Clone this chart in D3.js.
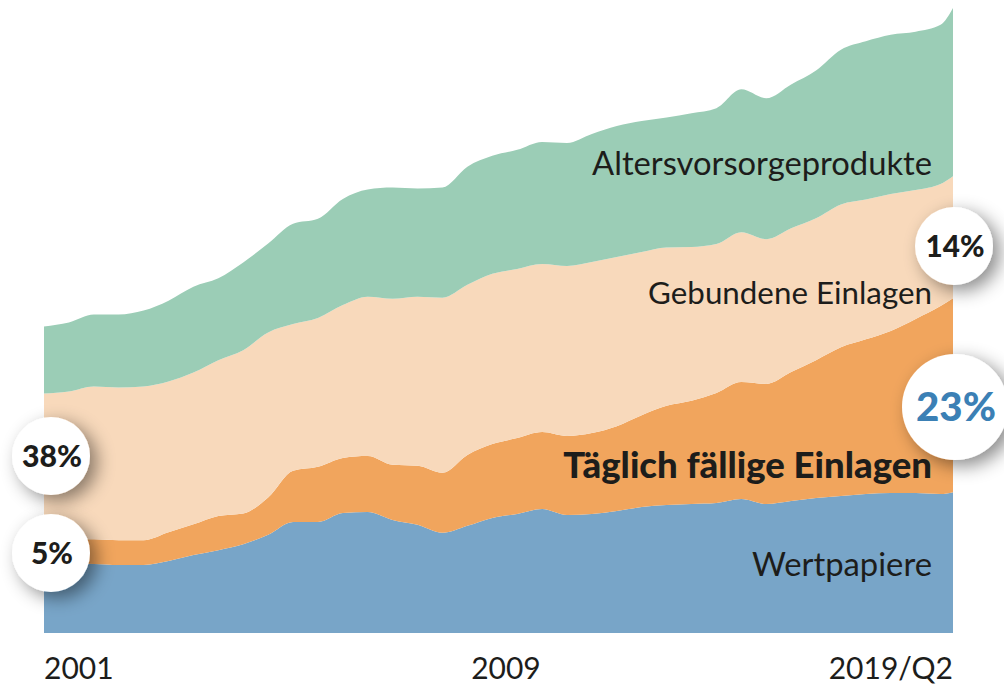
<!DOCTYPE html>
<html>
<head>
<meta charset="utf-8">
<script src="https://cdn.jsdelivr.net/npm/d3@7"></script>
<style>
  body { margin: 0; background: #fff; }
  text { font-family: Lato, "Open Sans", sans-serif; }
</style>
</head>
<body>
<div id="chart-area"></div>
<script>
// Halbjahreswerte, Mrd Euro
var periods = ["2001Q1","2001Q3","2002Q1","2002Q3","2003Q1","2003Q3","2004Q1","2004Q3",
    "2005Q1","2005Q3","2006Q1","2006Q3","2007Q1","2007Q3","2008Q1","2008Q3",
    "2009Q1","2009Q3","2010Q1","2010Q3","2011Q1","2011Q3","2012Q1","2012Q3",
    "2013Q1","2013Q3","2014Q1","2014Q3","2015Q1","2015Q3","2016Q1","2016Q3",
    "2017Q1","2017Q3","2018Q1","2018Q3","2019Q1","2019Q2"];

var wertpapiere = [735,705,695,685,685,725,785,835,895,990,1120,1120,1210,1220,1140,1090,1010,1080,1160,1200,1250,1190,1200,1230,1270,1290,1300,1310,1350,1300,1330,1360,1380,1400,1410,1410,1400,1420];
var taeglich = [230,240,250,250,250,290,310,345,310,375,515,555,555,565,555,595,605,715,745,765,775,795,815,855,925,1000,1040,1110,1180,1210,1300,1390,1500,1560,1635,1755,1895,1955];
var gebunden = [1450,1490,1540,1540,1550,1520,1530,1570,1645,1665,1480,1500,1540,1605,1675,1705,1765,1715,1715,1705,1695,1715,1725,1705,1645,1595,1550,1500,1510,1460,1450,1430,1440,1410,1380,1300,1230,1230];
var alters = [675,695,725,735,765,815,865,825,885,895,1010,1000,1070,1080,1120,1090,1110,1190,1190,1200,1230,1240,1290,1320,1320,1310,1350,1370,1440,1420,1450,1490,1560,1595,1605,1595,1605,1695];

var seriesNames = ["Wertpapiere", "Täglich fällige Einlagen", "Gebundene Einlagen", "Altersvorsorgeprodukte"];
var tickLabels = ["2001", "2009", "2019/Q2"];
var badgeLabels = ["38%", "5%", "14%", "23%"];

var width = 1004;
var height = 686;
var plot = { left: 44, right: 953, top: 8, bottom: 633 };
var colors = ["#78a5c8", "#f1a55d", "#f8d9bb", "#9bcdb6"];

var svg = d3.select("#chart-area").append("svg")
    .attr("width", width)
    .attr("height", height);

var defs = svg.append("defs");
var shadow = defs.append("filter")
    .attr("id", "shadow")
    .attr("x", "-60%").attr("y", "-60%")
    .attr("width", "220%").attr("height", "220%");
shadow.append("feDropShadow")
    .attr("dx", 7).attr("dy", 6)
    .attr("stdDeviation", 9)
    .attr("flood-color", "#000")
    .attr("flood-opacity", 0.45);

// quartal -> dezimaljahr
var toYear = (p) => {
    return +p.slice(0, 4) + (+p.slice(5) - 1) / 4;
};

var data = periods.map((p, i) => {
    return {
        t: toYear(p),
        w: wertpapiere[i],
        d: taeglich[i],
        g: gebunden[i],
        a: alters[i]
    };
});

var x = d3.scaleLinear()
    .domain([toYear(periods[0]), toYear(periods[periods.length - 1])])
    .range([plot.left, plot.right]);

var y = d3.scaleLinear()
    .domain([0, 6300])
    .range([plot.bottom, plot.top]);

var stack = d3.stack().keys(["w", "d", "g", "a"]);
var layers = stack(data);

var area = d3.area()
    .curve(d3.curveMonotoneX)
    .x((d) => { return x(d.data.t); })
    .y0((d) => { return y(d[0]); })
    .y1((d) => { return y(d[1]); });

svg.append("g").selectAll("path")
    .data(layers)
    .enter()
    .append("path")
    .attr("d", area)
    .attr("fill", (d, i) => { return colors[i]; });

// x-Achse: nur drei Beschriftungen
var tickPos = [toYear(periods[0]), (x.domain()[0] + x.domain()[1]) / 2 + 0.15, toYear(periods[periods.length - 1])];
var anchors = ["start", "middle", "end"];
svg.append("g").selectAll("text")
    .data(tickLabels)
    .enter()
    .append("text")
    .attr("x", (d, i) => { return x(tickPos[i]); })
    .attr("y", 679)
    .attr("text-anchor", (d, i) => { return anchors[i]; })
    .attr("font-size", "30px")
    .attr("fill", "#1d1d1b")
    .text((d) => { return d; });

// fit a label to a target width
function fitText(sel, target, base) {
    sel.attr("font-size", base + "px");
    var w = sel.node().getComputedTextLength();
    sel.attr("font-size", (base * target / w).toFixed(2) + "px");
}

var labelLayout = [
    { y: 576, w: 180, weight: "normal" },
    { y: 478, w: 369, weight: "900" },
    { y: 304, w: 284, weight: "normal" },
    { y: 175, w: 340, weight: "normal" }
];
seriesNames.forEach((name, i) => {
    var t = svg.append("text")
        .attr("x", 932)
        .attr("y", labelLayout[i].y)
        .attr("text-anchor", "end")
        .attr("fill", "#1d1d1b")
        .attr("font-weight", labelLayout[i].weight)
        .text(name);
    fitText(t, labelLayout[i].w, 30);
});

// Kreise mit Prozentangaben
var badgeLayout = [
    { cx: 51, cy: 456, r: 39, w: 60, color: "#1d1d1b" },
    { cx: 51, cy: 553, r: 39, w: 42, color: "#1d1d1b" },
    { cx: 954, cy: 246, r: 39, w: 59, color: "#1d1d1b" },
    { cx: 955, cy: 407, r: 53, w: 80, color: "#3b80b5" }
];
badgeLabels.forEach((lab, i) => {
    var b = badgeLayout[i];
    svg.append("circle")
        .attr("cx", b.cx)
        .attr("cy", b.cy)
        .attr("r", b.r)
        .attr("fill", "#fff")
        .attr("filter", "url(#shadow)");
    var t = svg.append("text")
        .attr("x", b.cx + 1)
        .attr("text-anchor", "middle")
        .attr("font-weight", "900")
        .attr("fill", b.color)
        .text(lab);
    fitText(t, b.w, 30);
    var fs = parseFloat(t.attr("font-size"));
    t.attr("y", b.cy + fs * 0.36);
});
</script>
</body>
</html>
